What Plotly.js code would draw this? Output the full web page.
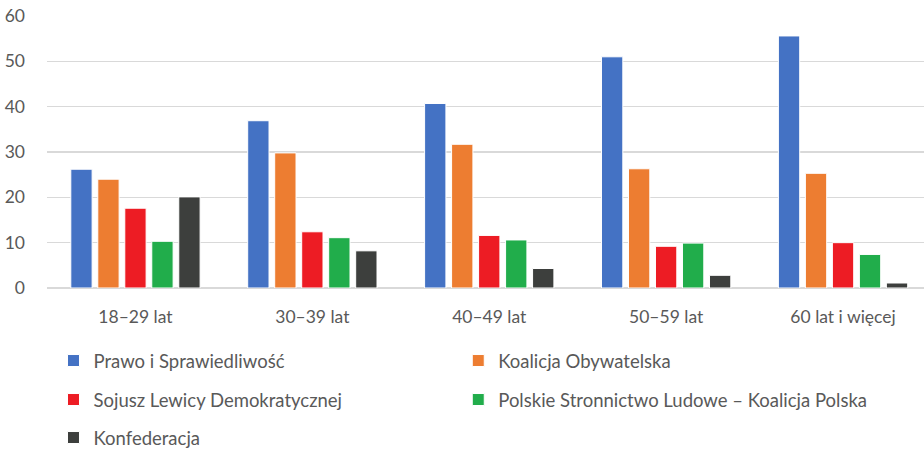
<!DOCTYPE html>
<html>
<head>
<meta charset="utf-8">
<script src="https://cdn.plot.ly/plotly-3.0.1.min.js"></script>
<style>html,body{margin:0;padding:0;background:#fff;}#chart{width:924px;height:451px;}</style>
</head>
<body>
<div id="chart"></div>
<script>
const categories = ["18–29 lat", "30–39 lat", "40–49 lat", "50–59 lat", "60 lat i więcej"];
const seriesNames = ["Prawo i Sprawiedliwość", "Koalicja Obywatelska", "Sojusz Lewicy Demokratycznej", "Polskie Stronnictwo Ludowe – Koalicja Polska", "Konfederacja"];
const valuesPiS = [26.2, 36.9, 40.7, 51.0, 55.6];
const valuesKO = [24.0, 29.8, 31.7, 26.3, 25.3];
const valuesSLD = [17.6, 12.4, 11.6, 9.2, 10.0];
const valuesPSL = [10.3, 11.1, 10.6, 9.9, 7.4];
const valuesKonf = [20.1, 8.2, 4.3, 2.8, 1.1];
const yTicks = [0, 10, 20, 30, 40, 50, 60];

const allValues = [valuesPiS, valuesKO, valuesSLD, valuesPSL, valuesKonf];
const colors = ["#4472C4", "#ED7D31", "#ED1C24", "#21AD4B", "#3D3F3D"];
const legendIds = ["legend", "legend2", "legend3", "legend4", "legend5"];

const traces = allValues.map((vals, i) => ({
  type: "bar",
  name: seriesNames[i],
  x: categories,
  y: vals,
  marker: {color: colors[i], line: {color: "#ffffff", width: 1}},
  legend: legendIds[i],
  hoverinfo: "y+name"
}));

const W = 924, H = 451, L = 46.5, T = 16, PLOT_BOTTOM = 288;
const plotW = W - L;
const paperH = H - T;

const legendFont = {family: "Lato, sans-serif", size: 18.5, color: "#595959"};
function mkLegend(px, py) {
  return {x: (px - L) / plotW, y: (H - py) / paperH, xanchor: "left", yanchor: "middle",
          font: legendFont, bgcolor: "rgba(0,0,0,0)", borderwidth: 0};
}

const tickFont = {family: "Lato, sans-serif", size: 17.5, color: "#595959"};

const layout = {
  width: W, height: H,
  margin: {l: L, r: 0, t: T, b: 0, autoexpand: false},
  paper_bgcolor: "#ffffff", plot_bgcolor: "#ffffff",
  barmode: "group",
  bargap: 0.237,
  bargroupgap: 0.21,
  font: {family: "Lato, sans-serif", color: "#595959", size: 16},
  xaxis: {
    type: "category",
    range: [-0.5, -0.5 + plotW / 177],
    showgrid: false, zeroline: false, showline: false,
    ticks: "", ticklabelstandoff: 16,
    tickfont: tickFont,
    fixedrange: true
  },
  yaxis: {
    domain: [(H - PLOT_BOTTOM) / paperH, 1],
    range: [0, 60],
    tickvals: yTicks,
    ticktext: yTicks.map(String),
    showgrid: true, gridcolor: "#D9D9D9", gridwidth: 1.5,
    zeroline: true, zerolinecolor: "#D9D9D9", zerolinewidth: 1.5,
    showline: false, ticks: "", ticklabelstandoff: 21,
    tickfont: tickFont,
    fixedrange: true
  },
  showlegend: true,
  legend: mkLegend(53, 361),
  legend2: mkLegend(458, 361),
  legend3: mkLegend(53, 400),
  legend4: mkLegend(458, 400),
  legend5: mkLegend(53, 438)
};

Plotly.newPlot("chart", traces, layout, {displayModeBar: false, staticPlot: true});
</script>
</body>
</html>
